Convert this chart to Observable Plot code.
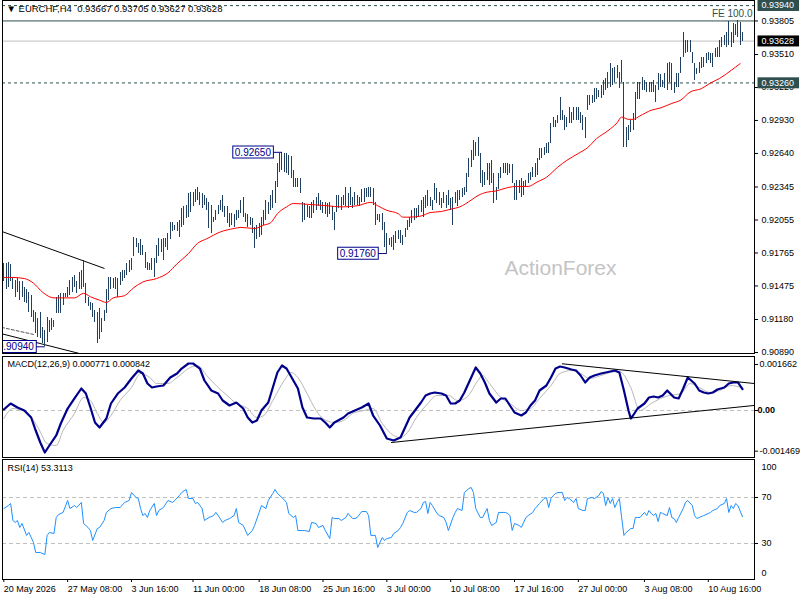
<!DOCTYPE html>
<html><head><meta charset="utf-8">
<script src="https://cdn.jsdelivr.net/npm/d3@7"></script>
<script src="https://cdn.jsdelivr.net/npm/@observablehq/plot@0.6"></script>
<style>
html,body{margin:0;padding:0;background:#fff;}
#chart svg{display:block;}
</style></head><body><div id="chart"></div>
<script>
// ---- price bars (H4), high / low per bar ----
const highs = [0.9167,0.9167,0.9168,0.9166,0.9155,0.9152,0.9154,0.9151,0.9151,0.9146,
0.9144,0.9142,0.9139,0.9126,0.9124,0.9119,0.9124,0.9111,0.9108,0.9120,
0.9117,0.9119,0.9117,0.9137,0.9139,0.9141,0.9141,0.9141,0.9146,0.9152,
0.9155,0.9157,0.9151,0.9159,0.9161,0.9170,0.9150,0.9137,0.9133,0.9132,
0.9126,0.9124,0.9128,0.9119,0.9126,0.9144,0.9155,0.9155,0.9154,0.9155,
0.9154,0.9159,0.9161,0.9161,0.9167,0.9170,0.9172,0.9190,0.9189,0.9185,
0.9188,0.9183,0.9177,0.9168,0.9167,0.9172,0.9172,0.9183,0.9189,0.9188,
0.9189,0.9189,0.9194,0.9203,0.9203,0.9201,0.9203,0.9205,0.9216,0.9217,
0.9218,0.9229,0.9230,0.9230,0.9232,0.9234,0.9230,0.9229,0.9227,0.9224,
0.9221,0.9218,0.9208,0.9214,0.9218,0.9223,0.9227,0.9217,0.9217,0.9211,
0.9211,0.9210,0.9214,0.9214,0.9223,0.9225,0.9211,0.9210,0.9208,0.9207,
0.9199,0.9201,0.9202,0.9208,0.9214,0.9223,0.9221,0.9227,0.9231,0.9239,
0.9255,0.9264,0.9265,0.9264,0.9264,0.9262,0.9261,0.9249,0.9242,0.9242,
0.9242,0.9221,0.9220,0.9218,0.9217,0.9221,0.9223,0.9225,0.9229,0.9223,
0.9221,0.9221,0.9220,0.9221,0.9217,0.9212,0.9227,0.9227,0.9225,0.9227,
0.9234,0.9229,0.9234,0.9225,0.9230,0.9227,0.9225,0.9232,0.9233,0.9233,
0.9234,0.9234,0.9233,0.9221,0.9210,0.9210,0.9211,0.9203,0.9194,0.9189,
0.9190,0.9192,0.9195,0.9196,0.9196,0.9192,0.9198,0.9205,0.9208,0.9214,
0.9216,0.9216,0.9218,0.9223,0.9225,0.9227,0.9231,0.9225,0.9223,0.9238,
0.9233,0.9230,0.9224,0.9230,0.9227,0.9231,0.9224,0.9225,0.9230,0.9231,
0.9231,0.9233,0.9234,0.9246,0.9260,0.9267,0.9275,0.9274,0.9278,0.9264,
0.9249,0.9247,0.9255,0.9255,0.9258,0.9246,0.9234,0.9246,0.9252,0.9255,
0.9255,0.9255,0.9254,0.9254,0.9238,0.9240,0.9240,0.9242,0.9239,0.9240,
0.9246,0.9247,0.9252,0.9255,0.9260,0.9268,0.9268,0.9269,0.9273,0.9274,
0.9290,0.9296,0.9293,0.9297,0.9313,0.9302,0.9297,0.9296,0.9304,0.9300,
0.9304,0.9304,0.9304,0.9300,0.9297,0.9296,0.9315,0.9315,0.9315,0.9321,
0.9321,0.9319,0.9324,0.9328,0.9330,0.9335,0.9343,0.9339,0.9340,0.9341,
0.9335,0.9346,0.9326,0.9287,0.9289,0.9293,0.9299,0.9318,0.9326,0.9326,
0.9331,0.9328,0.9326,0.9326,0.9326,0.9328,0.9324,0.9334,0.9333,0.9328,
0.9334,0.9343,0.9344,0.9343,0.9326,0.9334,0.9334,0.9348,0.9370,0.9363,
0.9363,0.9363,0.9353,0.9343,0.9339,0.9344,0.9348,0.9348,0.9352,0.9353,
0.9352,0.9352,0.9356,0.9357,0.9363,0.9366,0.9368,0.9370,0.9380,0.9370,
0.9378,0.9377,0.9381,0.9379,0.93705];
const lows = [0.9151,0.9144,0.9146,0.9151,0.9144,0.9137,0.9142,0.9135,0.9137,0.9133,
0.9132,0.9124,0.9120,0.9115,0.9106,0.9102,0.9101,0.9097,0.9094,0.9098,
0.9107,0.9108,0.9111,0.9123,0.9123,0.9123,0.9130,0.9137,0.9137,0.9139,
0.9142,0.9146,0.9141,0.9144,0.9144,0.9146,0.9132,0.9129,0.9126,0.9120,
0.9115,0.9097,0.9100,0.9107,0.9116,0.9123,0.9135,0.9144,0.9145,0.9144,
0.9137,0.9148,0.9151,0.9154,0.9157,0.9159,0.9161,0.9173,0.9181,0.9176,
0.9174,0.9174,0.9163,0.9161,0.9161,0.9161,0.9155,0.9167,0.9173,0.9177,
0.9170,0.9181,0.9179,0.9188,0.9195,0.9196,0.9195,0.9190,0.9199,0.9201,
0.9207,0.9208,0.9212,0.9217,0.9221,0.9223,0.9218,0.9216,0.9218,0.9214,
0.9198,0.9194,0.9203,0.9205,0.9210,0.9214,0.9212,0.9208,0.9202,0.9199,
0.9201,0.9199,0.9205,0.9207,0.9211,0.9208,0.9203,0.9199,0.9201,0.9194,
0.9180,0.9188,0.9190,0.9192,0.9201,0.9205,0.9210,0.9214,0.9216,0.9220,
0.9234,0.9247,0.9249,0.9247,0.9246,0.9245,0.9242,0.9234,0.9234,0.9234,
0.9229,0.9203,0.9205,0.9208,0.9207,0.9207,0.9211,0.9214,0.9217,0.9214,
0.9211,0.9210,0.9208,0.9210,0.9205,0.9196,0.9212,0.9216,0.9214,0.9218,
0.9217,0.9216,0.9218,0.9216,0.9218,0.9218,0.9217,0.9221,0.9221,0.9225,
0.9225,0.9225,0.9218,0.9201,0.9205,0.9203,0.9196,0.9181,0.9176,0.9183,
0.9181,0.9179,0.9185,0.9188,0.9185,0.9183,0.9190,0.9196,0.9199,0.9202,
0.9205,0.9207,0.9208,0.9212,0.9208,0.9216,0.9217,0.9217,0.9214,0.9223,
0.9220,0.9218,0.9216,0.9220,0.9216,0.9218,0.9214,0.9201,0.9220,0.9217,
0.9223,0.9225,0.9227,0.9230,0.9243,0.9252,0.9258,0.9261,0.9261,0.9238,
0.9234,0.9236,0.9240,0.9236,0.9238,0.9220,0.9223,0.9232,0.9242,0.9246,
0.9246,0.9245,0.9246,0.9238,0.9223,0.9223,0.9229,0.9225,0.9227,0.9234,
0.9238,0.9240,0.9243,0.9243,0.9245,0.9258,0.9260,0.9262,0.9264,0.9264,
0.9273,0.9287,0.9287,0.9290,0.9293,0.9293,0.9284,0.9287,0.9290,0.9290,
0.9293,0.9293,0.9293,0.9290,0.9284,0.9277,0.9302,0.9306,0.9308,0.9309,
0.9311,0.9313,0.9312,0.9315,0.9319,0.9321,0.9322,0.9324,0.9326,0.9330,
0.9321,0.9326,0.9269,0.9269,0.9275,0.9282,0.9284,0.9293,0.9311,0.9311,
0.9319,0.9319,0.9318,0.9318,0.9318,0.9318,0.9309,0.9319,0.9322,0.9322,
0.9321,0.9319,0.9326,0.9319,0.9317,0.9322,0.9322,0.9334,0.9348,0.9352,
0.9353,0.9353,0.9343,0.9328,0.9333,0.9334,0.9339,0.9340,0.9343,0.9346,
0.9343,0.9340,0.9348,0.9348,0.9348,0.9357,0.9359,0.9357,0.9359,0.9357,
0.9361,0.9368,0.9366,0.9359,0.93627];

// ---- moving average (red) sampled at bar indices ----
const maIdx = [0,4,9,13,17,22,26,31,35,38,42,45,48,53,57,61,67,72,76,81,85,89,95,101,104,110,114,117,120,124,127,135,142,148,155,161,164,168,173,175,178,183,187,192,196,200,205,208,212,216,221,225,230,234,238,243,247,252,256,260,265,269,271,274,276,279,284,288,293,297,301,306,310,314,319,323];
const maVal = [0.9155,0.9155,0.9154,0.9150,0.9142,0.9137,0.9137,0.9137,0.9141,0.9138,0.9135,0.9133,0.9137,0.9139,0.9146,0.9151,0.9154,0.9159,0.9167,0.9176,0.9185,0.9189,0.9195,0.9198,0.9199,0.9198,0.9201,0.9203,0.9211,0.9217,0.9220,0.9219,0.9218,0.9217,0.9218,0.9221,0.9218,0.9214,0.9211,0.9208,0.9208,0.9209,0.9212,0.9213,0.9215,0.9217,0.9223,0.9227,0.9230,0.9231,0.9234,0.9235,0.9235,0.9239,0.9243,0.9252,0.9258,0.9264,0.9269,0.9277,0.9284,0.9291,0.9296,0.9294,0.9294,0.9297,0.9302,0.9304,0.9308,0.9311,0.9318,0.9321,0.9326,0.9330,0.9337,0.9343];

// ---- MACD(12,26,9) ----
const macdIdx = [0,3,6,9,12,14,16,18,20,23,25,28,31,34,36,38,40,42,45,47,50,53,56,59,61,63,65,67,70,73,76,78,81,83,86,88,91,94,96,99,102,105,107,109,111,113,116,118,120,122,124,127,129,131,133,136,139,141,143,145,149,151,154,157,160,162,165,168,171,174,176,178,181,183,185,187,189,192,194,196,198,200,202,205,207,209,211,213,216,218,220,222,224,227,229,231,233,235,238,240,242,244,246,249,251,253,255,257,259,262,264,266,268,270,272,274,275,276,278,281,283,285,287,289,291,294,296,298,300,303,305,307,309,311,313,316,318,320,322,324];
const macdVal = [0.000036,0.000253,0.000108,0,-0.000253,-0.000723,-0.001156,-0.001517,-0.001265,-0.000903,-0.000470,0.000072,0.000434,0.000795,0.000614,0.000108,-0.000434,-0.000614,-0.000289,0.000253,0.000614,0.000831,0.001156,0.001445,0.001337,0.000975,0.000831,0.000867,0.000903,0.001192,0.001337,0.001517,0.001698,0.001698,0.001517,0.001084,0.000723,0.000614,0.000361,0.000181,0.000289,0.000072,-0.000253,-0.000434,-0.000361,0,0.000289,0.000831,0.001373,0.001626,0.001517,0.001084,0.000795,0.000108,-0.000253,-0.000289,-0.000289,-0.000434,-0.000614,-0.000434,-0.000253,-0.000108,0,0.000108,0.000253,-0.000181,-0.000542,-0.001012,-0.001084,-0.000975,-0.000614,-0.000253,0.000072,0.000289,0.000542,0.000614,0.000650,0.000614,0.000542,0.000253,0.000253,0.000361,0.000650,0.001192,0.001554,0.001337,0.001012,0.000614,0.000289,0.000434,0.000434,0.000181,-0.000072,-0.000181,-0.000072,0.000181,0.000361,0.000723,0.000903,0.001192,0.001517,0.001590,0.001554,0.001481,0.001445,0.001265,0.001012,0.001192,0.001265,0.001337,0.001373,0.001409,0.001445,0.001373,0.000723,0,-0.000289,-0.000181,0.000072,0.000253,0.000470,0.000506,0.000470,0.000542,0.000723,0.000470,0.000434,0.000795,0.001192,0.000975,0.000723,0.000650,0.000614,0.000650,0.000759,0.000831,0.000975,0.001012,0.001012,0.000771];
const sigIdx = [0,4,10,15,19,23,26,31,35,38,41,44,47,51,56,60,64,67,72,76,81,85,89,94,98,102,107,111,114,118,123,126,129,133,137,140,145,149,153,158,162,166,171,174,177,181,186,190,195,199,203,208,210,213,218,222,227,231,235,240,244,249,253,257,262,266,270,275,279,284,288,292,297,301,305,310,314,319,323];
const sigVal = [-0.000289,0.000072,-0.000072,-0.000614,-0.001192,-0.001265,-0.000723,-0.000108,0.000470,0.000361,-0.000108,-0.000434,-0.000181,0.000361,0.000831,0.001337,0.001192,0.000975,0.000975,0.001192,0.001517,0.001626,0.001265,0.000831,0.000542,0.000253,0.000072,-0.000253,-0.000181,0.000361,0.001084,0.001373,0.001192,0.000614,0,-0.000289,-0.000434,-0.000361,-0.000108,0,0.000072,-0.000470,-0.000903,-0.000975,-0.000795,-0.000253,0.000253,0.000542,0.000542,0.000361,0.000470,0.001084,0.001265,0.000975,0.000470,0.000253,0,0.000072,0.000434,0.000903,0.001337,0.001445,0.001337,0.001156,0.001265,0.001373,0.001409,0.000831,0,0.000253,0.000434,0.000542,0.000614,0.000975,0.000831,0.000650,0.000723,0.000903,0.000842];

// ---- RSI(14) ----
const rsiIdx = [0,2,3,4,5,6,7,8,10,11,13,14,16,18,19,20,22,23,24,26,28,29,31,32,34,35,37,38,39,41,42,44,45,47,49,51,53,55,56,58,59,60,61,62,63,64,66,67,68,70,72,74,75,77,78,80,81,83,84,85,87,88,90,92,93,94,96,97,99,101,102,103,105,107,109,110,112,113,115,116,118,119,120,122,124,125,127,128,129,131,132,134,135,137,138,140,141,143,144,145,147,148,150,151,153,154,155,157,159,160,161,162,163,164,166,167,168,170,171,173,174,175,177,178,180,181,183,184,185,186,187,188,190,191,193,194,195,197,198,199,201,202,204,205,206,207,209,210,212,213,214,216,217,219,220,221,222,223,224,226,227,229,230,232,233,235,237,238,239,240,241,242,243,245,246,247,248,250,251,252,254,255,256,258,259,261,262,263,264,265,266,267,268,269,270,271,272,273,275,276,277,278,279,281,282,283,284,285,286,287,288,289,291,292,293,294,295,296,298,299,300,302,303,304,305,307,309,310,311,313,314,316,317,318,319,320,321,322,324];
const rsiVal = [60.4,63.0,64.8,50.0,48.3,50.0,43.9,47.4,37.0,39.6,30.9,22.2,22.2,20.4,37.0,39.6,38.7,52.6,55.2,57.0,67.4,60.4,63.0,61.3,65.7,47.4,43.9,41.3,32.6,43.0,43.9,50.0,57.0,60.4,61.3,61.3,65.7,67.4,74.3,70.0,69.1,60.4,54.3,56.1,52.6,58.7,64.8,54.3,58.7,61.3,67.4,65.7,67.4,71.7,74.3,77.0,69.1,69.1,64.8,65.7,60.4,50.0,52.6,54.3,57.0,54.3,48.3,50.0,51.7,54.3,60.4,48.3,45.7,37.0,41.3,45.7,57.0,63.0,60.4,67.4,73.5,77.0,73.5,70.0,65.7,56.1,52.6,54.3,41.3,41.3,41.3,40.4,48.3,47.4,43.9,45.7,41.3,34.3,52.6,51.7,51.7,50.0,52.6,56.1,51.7,51.7,52.6,57.8,57.8,54.3,37.0,37.0,37.0,26.5,35.2,32.6,34.3,35.2,38.7,41.3,43.9,47.4,57.0,58.7,57.0,57.0,60.4,65.7,66.5,56.1,65.7,63.0,56.1,54.3,52.6,48.3,41.3,52.6,57.0,60.4,58.7,74.3,77.8,78.7,74.3,60.4,52.6,52.6,60.4,50.0,45.7,48.3,57.0,57.0,57.0,56.1,54.3,41.3,47.4,45.7,43.9,52.6,54.3,57.0,60.4,64.8,69.1,70.0,61.3,69.1,71.7,73.5,74.3,74.3,67.4,70.0,69.1,65.7,69.1,60.4,58.7,58.7,69.1,70.0,69.1,71.7,75.2,73.5,63.0,70.0,64.8,69.1,61.3,65.7,69.1,52.6,37.0,39.6,43.0,43.0,52.6,52.6,52.6,57.0,54.3,58.7,56.1,54.3,56.1,49.1,57.0,56.1,54.3,61.3,52.6,51.7,48.3,52.6,60.4,65.7,67.4,63.0,54.3,51.7,52.6,54.3,56.1,57.0,58.7,60.4,63.0,64.8,69.1,57.0,63.0,60.4,64.8,63.0,53.3];

// ---- time axis labels (bar index of each label) ----
const tickIdx = [0,28,56,83,112,140,168,196,224,252,281,309];
const tickLabels = ["20 May 2026","27 May 08:00","3 Jun 16:00","11 Jun 00:00","18 Jun 08:00","25 Jun 16:00","3 Jul 00:00","10 Jul 08:00","17 Jul 16:00","27 Jul 00:00","3 Aug 08:00","10 Aug 16:00"];

// ---- price axis / levels / annotations ----
const priceTicks = [0.93805,0.9351,0.9322,0.9293,0.9264,0.92345,0.92055,0.91765,0.91475,0.9118,0.9089];
const levelTop = 0.9394, levelFE = 0.93805, lastClose = 0.93628, levelSupport = 0.9326;
const axisBoxes = [
  {p: 0.9394, label: "0.93940", fill: "#2f4f4f"},
  {p: 0.93628, label: "0.93628", fill: "#000000"},
  {p: 0.9326, label: "0.93260", fill: "#2f4f4f"}
];
const pivots = [
  {i: 122, p: 0.9265, label: "0.92650"},
  {i: 168, p: 0.9176, label: "0.91760"},
  {i: 18, p: 0.9094, label: "0.90940"}
];
const trendUpper = [{i: -1, p: 0.91955}, {i: 44, p: 0.9163}];
const trendLower = [{i: -1, p: 0.91055}, {i: 33, p: 0.90882}];
const trendDashed = [{i: -1, p: 0.91111}, {i: 13, p: 0.91049}];
const macdUpper = [{i: 245, v: 0.001687}, {i: 329, v: 0.000976}];
const macdLower = [{i: 170, v: -0.001156}, {i: 329, v: 0.000181}];
const macdTicks = [0.001662, -0.001469];
const rsiLevels = [70, 30];

const header = "▼ EURCHF,H4  0.93667 0.93705 0.93627 0.93628";
const macdTitle = "MACD(12,26,9) 0.000771 0.000842";
const rsiTitle = "RSI(14) 53.3113";

// ---- build ----
const FONT = "'Liberation Sans', Arial, sans-serif";
const xDomain = [-0.57, 329.27];
const bars = highs.map((h, i) => ({i, h, l: lows[i]}));
const ma = maIdx.map((i, k) => ({i, p: maVal[k]}));
const macd = macdIdx.map((i, k) => ({i, v: macdVal[k]}));
const sig = sigIdx.map((i, k) => ({i, v: sigVal[k]}));
const rsi = rsiIdx.map((i, k) => ({i, v: rsiVal[k]}));
const baseStyle = {fontFamily: FONT, fontSize: "9px", color: "#000", background: "transparent", overflow: "visible"};
const common = {width: 800, marginLeft: 2, marginRight: 46, x: {domain: xDomain, axis: null}};

const mainSvg = Plot.plot({
  ...common, height: 355, marginTop: 0, marginBottom: 2,
  style: baseStyle,
  y: {domain: [0.908811, 0.939848], axis: null},
  marks: [
    Plot.text(["ActionForex"], {frameAnchor: "middle", dx: 182, dy: 91, fill: "#c4c4c4", fontSize: 21}),
    Plot.ruleY([levelTop], {stroke: "#2f4f4f", strokeDasharray: "3,3"}),
    Plot.ruleY([levelFE], {stroke: "#2f4f4f"}),
    Plot.ruleY([lastClose], {stroke: "#c0c0c0"}),
    Plot.ruleY([levelSupport], {stroke: "#2f4f4f", strokeDasharray: "3,3"}),
    Plot.line(trendUpper, {x: "i", y: "p", stroke: "#000", strokeWidth: 1, clip: true}),
    Plot.line(trendLower, {x: "i", y: "p", stroke: "#000", strokeWidth: 1, clip: true}),
    Plot.line(trendDashed, {x: "i", y: "p", stroke: "#555", strokeWidth: 1, strokeDasharray: "3,2", clip: true}),
    Plot.ruleX(bars, {x: "i", y1: "l", y2: "h", stroke: "#1f4060", strokeWidth: 1, shapeRendering: "crispEdges"}),
    Plot.line(ma, {x: "i", y: "p", stroke: "#ff0000", strokeWidth: 1, curve: "monotone-x"}),
    Plot.link(pivots, {x1: d => d.i - 4, x2: "i", y1: "p", y2: "p", stroke: "#00008b", clip: true}),
    Plot.text(pivots, {x: "i", y: "p", text: "label", textAnchor: "end", dx: -11, fill: "#00008b", fontSize: 10, clip: true}),
    Plot.text([{p: levelFE, t: "FE 100.0"}], {y: "p", text: "t", frameAnchor: "right", textAnchor: "end", dx: -2, dy: -7, fill: "#2f4f4f", fontSize: 10}),
    Plot.text([header], {frameAnchor: "top-left", textAnchor: "start", lineAnchor: "top", dx: 4, dy: 5, fontSize: 9.5, fill: "#000"}),
    Plot.frame({stroke: "#000"}),
    Plot.axisY({anchor: "right", label: null, ticks: priceTicks, tickFormat: d => d.toFixed(5), tickSize: 3, tickPadding: 4}),
    Plot.text(axisBoxes, {y: "p", text: "label", frameAnchor: "right", textAnchor: "start", dx: 7, fill: "#fff", fontSize: 9})
  ]
});

const macdSvg = Plot.plot({
  ...common, height: 103, marginTop: 1, marginBottom: 1,
  style: baseStyle,
  y: {domain: [-0.001698, 0.001951], axis: null},
  marks: [
    Plot.ruleY([0], {stroke: "#c0c0c0", strokeDasharray: "4,3"}),
    Plot.line(sig, {x: "i", y: "v", stroke: "#b8b8b8", strokeWidth: 1, curve: "monotone-x"}),
    Plot.line(macd, {x: "i", y: "v", stroke: "#00008b", strokeWidth: 2.2}),
    Plot.line(macdUpper, {x: "i", y: "v", stroke: "#000", strokeWidth: 1, clip: true}),
    Plot.line(macdLower, {x: "i", y: "v", stroke: "#000", strokeWidth: 1, clip: true}),
    Plot.text([macdTitle], {frameAnchor: "top-left", textAnchor: "start", lineAnchor: "top", dx: 5, dy: 4, fill: "#000"}),
    Plot.frame({stroke: "#000"}),
    Plot.axisY({anchor: "right", label: null, ticks: macdTicks, tickFormat: d => d.toFixed(6), tickSize: 3, tickPadding: 2}),
    Plot.axisY({anchor: "right", label: null, ticks: [0], tickFormat: () => "0.00", tickSize: 3, tickPadding: 0, fontWeight: "bold"})
  ]
});

const rsiSvg = Plot.plot({
  ...common, height: 142, marginTop: 1, marginBottom: 21,
  style: baseStyle,
  y: {domain: [-1.3, 103.04], axis: null},
  marks: [
    Plot.ruleY(rsiLevels, {stroke: "#c0c0c0", strokeDasharray: "4,3"}),
    Plot.line(rsi, {x: "i", y: "v", stroke: "#1e90ff", strokeWidth: 1}),
    Plot.text([rsiTitle], {frameAnchor: "top-left", textAnchor: "start", lineAnchor: "top", dx: 5, dy: 5, fill: "#000"}),
    Plot.frame({stroke: "#000"}),
    Plot.axisY({anchor: "right", label: null, ticks: rsiLevels, tickSize: 3, tickPadding: 4}),
    Plot.axisY({anchor: "right", label: null, ticks: [100], tickSize: 0, tickPadding: 7, dy: 4}),
    Plot.axisY({anchor: "right", label: null, ticks: [0], tickSize: 0, tickPadding: 7, dy: -5}),
    Plot.axisX({label: null, ticks: tickIdx, tickFormat: d => tickLabels[tickIdx.indexOf(d)], textAnchor: "start", tickSize: 3, tickPadding: 3})
  ]
});

const holder = document.getElementById("chart");
holder.append(mainSvg, macdSvg, rsiSvg);

// boxes behind labels, sized from the rendered text
function addBoxes(svg, specs) {
  const texts = Array.from(svg.querySelectorAll("text"));
  for (const s of specs) {
    const t = texts.find(el => el.textContent === s.label);
    if (!t) continue;
    const bb = t.getBBox();
    const r = document.createElementNS("http://www.w3.org/2000/svg", "rect");
    r.setAttribute("x", bb.x - s.padL);
    r.setAttribute("y", bb.y - 0.5);
    r.setAttribute("width", bb.width + s.padL + s.padR);
    r.setAttribute("height", bb.height + 1);
    r.setAttribute("fill", s.fill);
    r.setAttribute("stroke", s.stroke || "none");
    const tr = t.getAttribute("transform");
    if (tr) r.setAttribute("transform", tr);
    t.parentNode.insertBefore(r, t);
  }
}
addBoxes(mainSvg, axisBoxes.map(d => ({label: d.label, fill: d.fill, padL: 4, padR: 5})));
addBoxes(mainSvg, pivots.map(d => ({label: d.label, fill: "#fff", stroke: "#00008b", padL: 2, padR: 2})));
</script></body></html>
